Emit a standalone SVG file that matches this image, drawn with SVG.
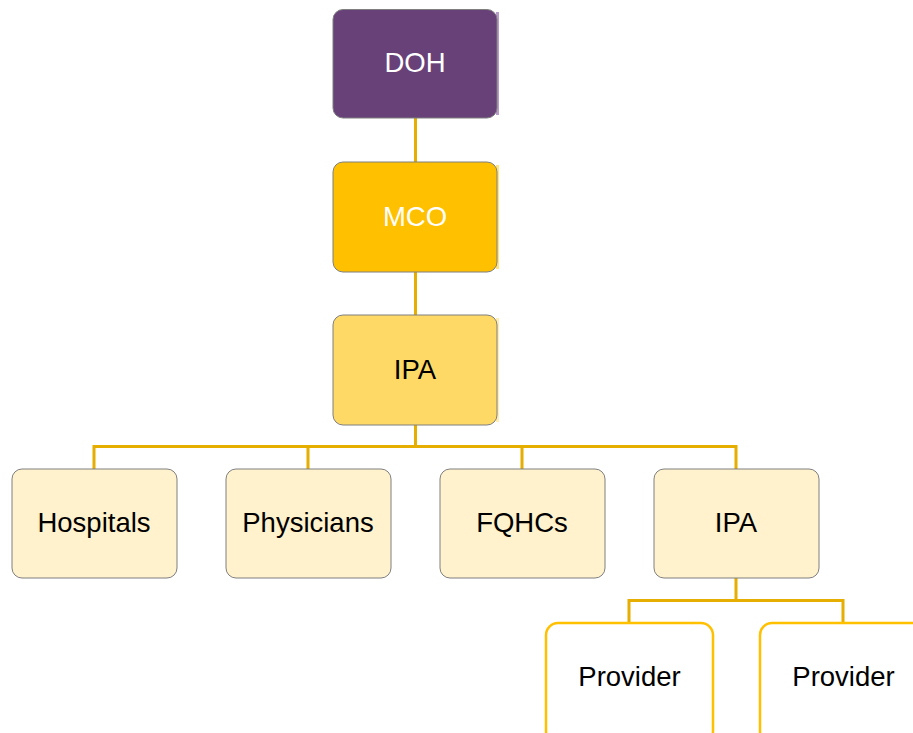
<svg xmlns="http://www.w3.org/2000/svg" width="913" height="733" viewBox="0 0 913 733">
  <style>
    .box { stroke: #7f7f7f; stroke-width: 1; }
    .lbl { font-family: "Liberation Sans", Arial, sans-serif; font-size: 27.5px; text-anchor: middle; }
    .light { fill: #ffffff; }
    .dark { fill: #000000; }
    .conn { fill: none; stroke: #e6ae00; stroke-width: 3; }
    .prov { fill: #ffffff; stroke: #ffc000; stroke-width: 2.5; }
  </style>

  <g id="connectors">
    <line class="conn" x1="415.5" y1="118" x2="415.5" y2="162"/>
    <line class="conn" x1="415.5" y1="272" x2="415.5" y2="315"/>
    <path class="conn" d="M415.5 425 V446.5 M94 469 V446.5 H736 V469 M308 446.5 V469 M522 446.5 V469"/>
    <path class="conn" d="M736 578 V600.5 M629 622 V600.5 H843 V622"/>
  </g>

  <g id="doh">
    <rect x="496" y="12" width="3" height="103" fill="#b89bc6"/>
    <rect class="box" x="333" y="9.5" width="164" height="108.5" rx="10" fill="#674178"/>
    <text class="lbl light" x="415" y="72">DOH</text>
  </g>

  <g id="mco">
    <rect x="496" y="165" width="3" height="104" fill="#ffe480"/>
    <rect class="box" x="333" y="162" width="164" height="110" rx="10" fill="#ffc000"/>
    <text class="lbl light" x="415" y="226">MCO</text>
  </g>

  <g id="ipa">
    <rect x="496" y="318" width="3" height="104" fill="#ffeeb3"/>
    <rect class="box" x="333" y="315" width="164" height="110" rx="10" fill="#ffd966"/>
    <text class="lbl dark" x="415" y="379">IPA</text>
  </g>

  <g id="hospitals">
    <rect class="box" x="12" y="469" width="165" height="109" rx="10" fill="#fff2cc"/>
    <text class="lbl dark" x="94" y="532">Hospitals</text>
  </g>

  <g id="physicians">
    <rect class="box" x="226" y="469" width="165" height="109" rx="10" fill="#fff2cc"/>
    <text class="lbl dark" x="308" y="532">Physicians</text>
  </g>

  <g id="fqhcs">
    <rect class="box" x="440" y="469" width="165" height="109" rx="10" fill="#fff2cc"/>
    <text class="lbl dark" x="522" y="532">FQHCs</text>
  </g>

  <g id="ipa-sub">
    <rect class="box" x="654" y="469" width="165" height="109" rx="10" fill="#fff2cc"/>
    <text class="lbl dark" x="736" y="532">IPA</text>
  </g>

  <g id="provider-1">
    <rect class="prov" x="546" y="623" width="167" height="120" rx="12"/>
    <text class="lbl dark" x="629.5" y="686">Provider</text>
  </g>

  <g id="provider-2">
    <rect class="prov" x="760" y="623" width="167" height="120" rx="12"/>
    <text class="lbl dark" x="843.5" y="686">Provider</text>
  </g>
</svg>
